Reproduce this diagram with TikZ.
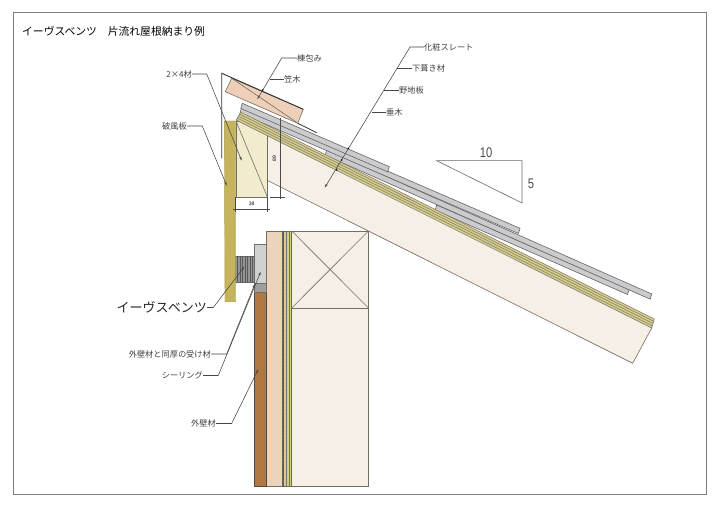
\documentclass[tikz,border=0pt]{standalone}
\usepackage{fontspec}
\setmainfont{Noto Sans CJK JP}
\setsansfont{Liberation Sans}
\usetikzlibrary{arrows.meta}
\definecolor{frameC}{RGB}{125,125,125}
\definecolor{rafterC}{RGB}{246,239,229}
\definecolor{blockC}{RGB}{240,236,205}
\definecolor{stripC}{RGB}{214,203,135}
\definecolor{fasciaC}{RGB}{198,180,92}
\definecolor{pinkC}{RGB}{238,208,184}
\definecolor{sheathC}{RGB}{236,212,188}
\definecolor{brownC}{RGB}{178,120,66}
\definecolor{slateC}{RGB}{203,203,206}
\definecolor{edgeC}{RGB}{115,110,100}
\definecolor{leadC}{RGB}{70,70,70}
\tikzset{
  lbl/.style={inner sep=0pt,font=\fontsize{8.2}{9}\selectfont,text=black!75},
  leader/.style={draw=leadC,line width=.55pt,-{Stealth[length=4pt,width=2.2pt]}},
  plainlead/.style={draw=leadC,line width=.55pt},
  edge/.style={draw=edgeC,line width=.6pt},
  slate/.style={fill=slateC,draw=black!60,line width=.6pt},
  dim/.style={draw=black!70,line width=.45pt},
  strline/.style={draw=black!55,line width=.45pt},
  tick/.style={fill=black,draw=none}
}
\newcommand{\slt}[4]{\path[slate] (#1,#2) -- (#3,#4) -- ++(-1.5,5.2) -- ++(#1-#3,#2-#4) -- cycle;}
\begin{document}
\begin{tikzpicture}[x=1pt,y=-1pt]
\useasboundingbox (0,0) rectangle (720,510);
\fill[white] (0,0) rectangle (720,510);
\draw[frameC,line width=.9pt] (13.5,12) rectangle (706,494);
% wall
\path[fill=rafterC,edge] (291.7,231) rectangle (368.5,486.7);
\draw[edge] (291.7,308) -- (368.5,308);
\draw[edge] (291.7,231) -- (368.5,308);
\draw[edge] (368.5,231) -- (291.7,308);
\path[fill=stripC,draw=black!60,line width=.5pt] (283.5,231) rectangle (291.7,486.7);
\draw[strline] (286.3,231) -- (286.3,486.7);
\draw[strline] (289,231) -- (289,486.7);
\path[fill=sheathC,edge] (266.7,231) rectangle (282.6,486.7);
\draw[black!65,line width=1.2pt,dash pattern=on 1.4pt off 1pt] (283,231) -- (283,486.7);
\path[fill=brownC,draw=black!70,line width=.6pt] (254.3,292.3) rectangle (266.7,486.7);
\path[fill=black!38,edge] (254.3,283.3) rectangle (266.7,292.3);
\path[fill=black!18,edge] (254.3,244) rectangle (266.7,283.3);
% vent
\path[fill=black!42,draw=black!60,line width=.5pt] (235.5,256) rectangle (254.3,282.3);
\foreach \vx in {237.5,240,242.5,245,247.5,250,252.5}
  \draw[black!65,line width=.9pt] (\vx,256) -- (\vx,282.3);
% rafter
\path[fill=rafterC] (236,120) -- (651.7,328) -- (632.7,363.3) -- (267.5,180.5) -- cycle;
\draw[edge] (267.5,180.5) -- (632.7,363.3) -- (651.7,328);
% block
\path[fill=blockC,edge] (236,121) rectangle (267.5,197.3);
\draw[edge] (236,121) -- (267.5,197.3);
% slates
\slt{436.7}{205}{629}{289.3}
\slt{326.7}{150}{651.7}{294}
\slt{241.5}{108}{520}{228.3}
\slt{242.3}{103.3}{389.3}{166.7}
% strip
\path[fill=stripC,draw=black!55,line width=.5pt] (240.7,112.2) -- (654.3,319) -- (651.7,328) -- (236,120) -- cycle;
\draw[strline] (239.5,114.1) -- (653.65,321.25);
\draw[strline] (238.35,116.1) -- (653,323.5);
\draw[strline] (237.2,118) -- (652.35,325.75);
% fascia
\path[fill=fasciaC,draw=fasciaC!85!black,line width=.4pt] (224.3,121) -- (235.7,121) -- (235.7,301.7) -- (225,301.7) -- cycle;
% kasagi
\path[fill=pinkC,edge] (231.7,78.3) -- (303.3,109.3) -- (297.7,123.3) -- (225.3,91.7) -- cycle;
\draw[edge] (231.7,78.3) -- (296.7,122.3);
% ridge cap
\draw[black!80,line width=.9pt] (221.7,158.3) -- (221.7,73.3) -- (303.3,109.3);
\draw[black!80,line width=.8pt] (297.7,123.3) -- (316.7,132.7);
% dimensions
\draw[dim] (280,118) -- (280,199);
\draw[dim] (270,197.3) -- (285,197.3);
\draw[dim] (235.7,197.3) -- (235.7,212);
\draw[dim] (267.3,197.3) -- (267.3,212);
\draw[dim] (232.7,209) -- (270,209);
\node[inner sep=0pt,rotate=90,font=\sffamily\fontsize{5}{5}\selectfont] (dimeight) at (274.3,159) {89};
\node[inner sep=0pt,font=\sffamily\fontsize{5}{5}\selectfont] (dimthree) at (251.7,204) {38};
% slope triangle
\node[inner sep=0pt,xscale=.8,font=\sffamily\fontsize{14}{15}\selectfont,text=black!70] (tenlab) at (486,153) {10};
\node[inner sep=0pt,xscale=.8,font=\sffamily\fontsize{14}{15}\selectfont,text=black!70] (fivelab) at (531,184) {5};
\draw[draw=black!60,line width=.6pt] (436.7,160.7) -- (522,160.7) -- (522,203) -- cycle;
% labels
\node[inner sep=0pt,anchor=west,font=\fontsize{10.8}{12}\selectfont] (title) at (22,31) {イーヴスベンツ　片流れ屋根納まり例};
\node[lbl,anchor=east] (lfour) at (192,74) {2×4材};
\node[lbl,anchor=east] (lhafu) at (187,126) {破風板};
\node[lbl,anchor=west] (lmune) at (297,58) {棟包み};
\node[lbl,anchor=west] (lkasa) at (284,79) {笠木};
\node[lbl,anchor=west] (lsure) at (424,47) {化粧スレート};
\node[lbl,anchor=west] (lshita) at (412,68.5) {下葺き材};
\node[lbl,anchor=west] (lnoji) at (399,90) {野地板};
\node[lbl,anchor=west] (ltaru) at (386,112) {垂木};
\node[inner sep=0pt,anchor=east,font=\fontsize{13}{14}\selectfont,text=black!85] (lvent) at (207,307.5) {イーヴスベンツ};
\node[lbl,anchor=east] (luke) at (211,354) {外壁材と同厚の受け材};
\node[lbl,anchor=east] (lseal) at (203,375.5) {シーリング};
\node[lbl,anchor=east] (lgai) at (216,423.5) {外壁材};
% leader points
\coordinate (tfour) at (241.7,160.7);
\coordinate (thafu) at (226.7,185.7);
\coordinate (tmune) at (257.3,99.3);
\coordinate (tsure) at (324.7,187.7);
\coordinate (tvent) at (244.3,266.7);
\coordinate (tuke) at (254.8,284);
\coordinate (tseal) at (260.7,271.7);
\coordinate (tgai) at (258.3,369);
\coordinate (emune) at (281.7,58);
\coordinate (ekasa) at (269.5,79);
\coordinate (esure) at (410,47);
\coordinate (eshita) at (396.5,68.5);
\coordinate (enoji) at (384,90);
\coordinate (etaru) at (371.5,112);
\path[leader] (lfour.east) -- (206.7,74) -- (tfour);
\path[leader] (lhafu.east) -- (202.3,126) -- (thafu);
\path[leader] (lmune.west) -- (emune) -- (tmune);
\path[plainlead] (lkasa.west) -- (ekasa);
\path[leader] (lsure.west) -- (esure) -- (tsure);
\path[plainlead] (lshita.west) -- (eshita);
\path[plainlead] (lnoji.west) -- (enoji);
\path[plainlead] (ltaru.west) -- (etaru);
\path[leader] (lvent.east) -- (213.3,307.5) -- (tvent);
\path[leader] (luke.east) -- (226.7,354) -- (tuke);
\path[leader] (lseal.east) -- (218.3,375.5) -- (tseal);
\path[leader] (lgai.east) -- (231.7,423.5) -- (tgai);
% leader ticks
\fill[tick] (262.7,90) circle (.9);
\fill[tick] (348.3,148.3) circle (.9);
\fill[tick] (341.7,160) circle (.9);
\fill[tick] (336.7,170) circle (.9);
\end{tikzpicture}
\end{document}
